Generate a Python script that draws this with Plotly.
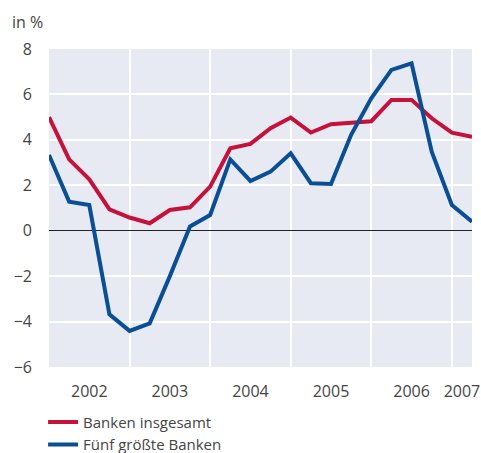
import plotly.graph_objects as go

quarters = [2002.0 + 0.25 * i for i in range(22)]
banken_insgesamt = [5.0, 3.14, 2.26, 0.94, 0.58, 0.33, 0.91, 1.03, 1.94, 3.63, 3.82,
                    4.51, 4.98, 4.32, 4.69, 4.74, 4.82, 5.76, 5.76, 4.95, 4.32, 4.14]
fuenf_groesste = [3.33, 1.28, 1.13, -3.68, -4.41, -4.08, -2.0, 0.19, 0.69, 3.14, 2.19,
                  2.60, 3.41, 2.09, 2.06, 4.22, 5.83, 7.08, 7.37, 3.48, 1.13, 0.40]
year_labels = ["2002", "2003", "2004", "2005", "2006", "2007"]
year_label_pos = [2002.5, 2003.5, 2004.5, 2005.5, 2006.5, 2007.125]
year_bounds = [2003, 2004, 2005, 2006, 2007]

RED = "#C4123A"
BLUE = "#0A4F96"
FONT = "Open Sans"
TXT = "#444444"

fig = go.Figure()
fig.add_trace(go.Scatter(x=quarters, y=banken_insgesamt, mode="lines",
                         name="Banken insgesamt", line=dict(color=RED, width=4)))
fig.add_trace(go.Scatter(x=quarters, y=fuenf_groesste, mode="lines",
                         name="Fünf größte Banken", line=dict(color=BLUE, width=4)))

fig.update_layout(
    width=481, height=453,
    margin=dict(l=49, r=9, t=49, b=86, autoexpand=False),
    paper_bgcolor="white",
    plot_bgcolor="#E7EAF3",
    font=dict(family=FONT, size=16, color=TXT),
    showlegend=True,
    legend=dict(x=-0.014, xanchor="left", y=-0.122, yanchor="top",
                font=dict(family=FONT, size=15, color=TXT),
                bgcolor="rgba(0,0,0,0)", tracegroupgap=0,
                itemwidth=30),
    annotations=[dict(text="in %", xref="paper", yref="paper",
                      x=-0.093, y=1.084, xanchor="left", yanchor="middle",
                      showarrow=False, font=dict(family=FONT, size=16, color=TXT))],
)
fig.update_xaxes(
    range=[2002.0, 2007.25], automargin=False,
    tickmode="array", tickvals=year_label_pos, ticktext=year_labels,
    showgrid=False, zeroline=False, showline=False,
    ticks="", ticklabelstandoff=13, ticklabeloverflow="allow",
    minor=dict(tickmode="array", tickvals=year_bounds, showgrid=True,
               gridcolor="white", gridwidth=2, ticks=""),
)
fig.update_yaxes(
    range=[-6, 8], dtick=2, tick0=0, automargin=False,
    showgrid=True, gridcolor="white", gridwidth=2,
    zeroline=True, zerolinecolor="#222222", zerolinewidth=1,
    showline=False, ticks="", ticklabelstandoff=16,
)
fig.write_html(
    "out.html",
    config={"displayModeBar": False},
    post_script="document.body.style.margin='0';document.body.style.overflow='hidden';",
)
